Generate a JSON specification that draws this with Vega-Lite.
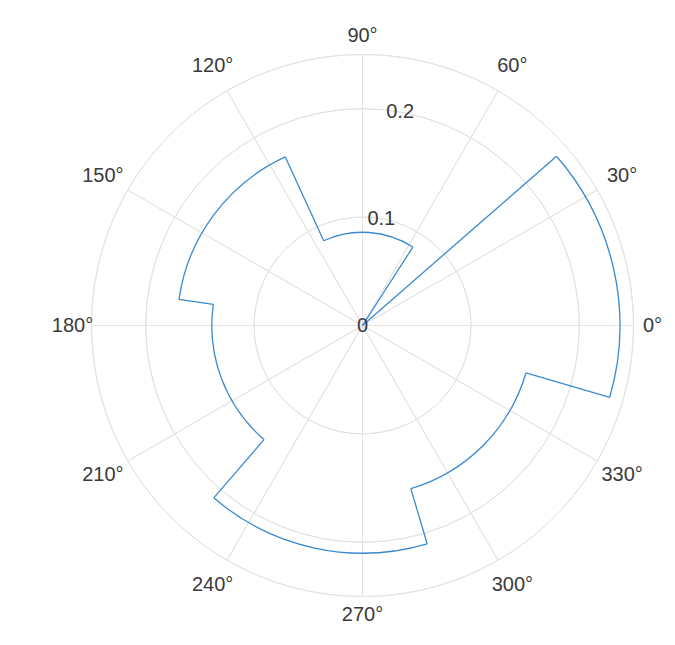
{
  "$schema": "https://vega.github.io/schema/vega-lite/v6.json",
  "width": 542,
  "height": 542,
  "autosize": {"type": "none"},
  "padding": {"left": 91.5, "top": 54.5, "right": 41.5, "bottom": 48.5},
  "background": "white",
  "config": {"view": {"stroke": null}, "text": {"font": "Liberation Sans"}},
  "datasets": {
    "outline": [
      {"i": 0, "theta": 0, "r": 0},
      {"i": 1, "theta": 57.3, "r": 0},
      {"i": 2, "theta": 57.3, "r": 0.086},
      {"i": 3, "theta": 114.6, "r": 0.086},
      {"i": 4, "theta": 114.6, "r": 0.171},
      {"i": 5, "theta": 171.9, "r": 0.171},
      {"i": 6, "theta": 171.9, "r": 0.139},
      {"i": 7, "theta": 229.2, "r": 0.139},
      {"i": 8, "theta": 229.2, "r": 0.21},
      {"i": 9, "theta": 286.5, "r": 0.21},
      {"i": 10, "theta": 286.5, "r": 0.157},
      {"i": 11, "theta": 343.8, "r": 0.157},
      {"i": 12, "theta": 343.8, "r": 0.2375},
      {"i": 13, "theta": 401.1, "r": 0.2375},
      {"i": 14, "theta": 401.1, "r": 0}
    ],
    "spokes": [
      {"angle": 0, "label": "0°"},
      {"angle": 30, "label": "30°"},
      {"angle": 60, "label": "60°"},
      {"angle": 90, "label": "90°"},
      {"angle": 120, "label": "120°"},
      {"angle": 150, "label": "150°"},
      {"angle": 180, "label": "180°"},
      {"angle": 210, "label": "210°"},
      {"angle": 240, "label": "240°"},
      {"angle": 270, "label": "270°"},
      {"angle": 300, "label": "300°"},
      {"angle": 330, "label": "330°"}
    ],
    "rings": [{"r": 0.1}, {"r": 0.2}, {"r": 0.25}],
    "rticks": [
      {"v": 0, "label": "0"},
      {"v": 0.1, "label": "0.1"},
      {"v": 0.2, "label": "0.2"}
    ]
  },
  "layer": [
    {
      "data": {"name": "rings"},
      "mark": {"type": "arc", "filled": false, "stroke": "#e3e3e3", "strokeWidth": 1},
      "encoding": {
        "theta": {"datum": 0, "type": "quantitative", "scale": {"domain": [0, 360], "range": [1.5707963268, -4.7123889804]}},
        "theta2": {"datum": 360},
        "radius": {"field": "r", "type": "quantitative", "scale": {"type": "linear", "domain": [0, 0.25], "zero": true}},
        "radius2": {"field": "r"}
      }
    },
    {
      "data": {"name": "spokes"},
      "mark": {"type": "arc", "filled": false, "stroke": "#e3e3e3", "strokeWidth": 1},
      "encoding": {
        "theta": {"field": "angle", "type": "quantitative", "stack": null, "scale": {"domain": [0, 360], "range": [1.5707963268, -4.7123889804]}},
        "theta2": {"field": "angle"},
        "radius": {"datum": 0.25, "type": "quantitative", "scale": {"type": "linear", "domain": [0, 0.25], "zero": true}},
        "radius2": {"datum": 0}
      }
    },
    {
      "data": {"name": "outline"},
      "transform": [
        {"window": [{"op": "lead", "field": "theta", "as": "theta_next"}, {"op": "lead", "field": "r", "as": "r_next"}], "sort": [{"field": "i"}]},
        {"filter": "datum.theta_next != null"}
      ],
      "mark": {"type": "arc", "filled": false, "stroke": "#3a8ad0", "strokeWidth": 1.3},
      "encoding": {
        "theta": {"field": "theta", "type": "quantitative", "stack": null, "scale": {"domain": [0, 360], "range": [1.5707963268, -4.7123889804]}},
        "theta2": {"field": "theta_next"},
        "radius": {"field": "r", "type": "quantitative", "scale": {"type": "linear", "domain": [0, 0.25], "zero": true}},
        "radius2": {"field": "r_next"}
      }
    },
    {
      "data": {"name": "spokes"},
      "transform": [{"filter": "datum.angle % 90 == 0"}],
      "mark": {"type": "text", "fontSize": 20, "color": "#3a3a3a", "align": "center", "baseline": "middle"},
      "encoding": {
        "theta": {"field": "angle", "type": "quantitative", "stack": null, "scale": {"domain": [0, 360], "range": [1.5707963268, -4.7123889804]}},
        "radius": {"datum": 0.2675, "type": "quantitative", "scale": {"type": "linear", "domain": [0, 0.25], "zero": true}},
        "text": {"field": "label"}
      }
    },
    {
      "data": {"name": "spokes"},
      "transform": [{"filter": "datum.angle % 90 != 0"}],
      "mark": {"type": "text", "fontSize": 20, "color": "#3a3a3a", "align": "center", "baseline": "middle"},
      "encoding": {
        "theta": {"field": "angle", "type": "quantitative", "stack": null, "scale": {"domain": [0, 360], "range": [1.5707963268, -4.7123889804]}},
        "radius": {"datum": 0.2765, "type": "quantitative", "scale": {"type": "linear", "domain": [0, 0.25], "zero": true}},
        "text": {"field": "label"}
      }
    },
    {
      "data": {"name": "rticks"},
      "mark": {"type": "text", "fontSize": 20, "color": "#3a3a3a", "align": "center", "baseline": "middle"},
      "encoding": {
        "theta": {"datum": 80, "type": "quantitative", "scale": {"domain": [0, 360], "range": [1.5707963268, -4.7123889804]}},
        "radius": {"field": "v", "type": "quantitative", "scale": {"type": "linear", "domain": [0, 0.25], "zero": true}},
        "text": {"field": "label"}
      }
    }
  ]
}
